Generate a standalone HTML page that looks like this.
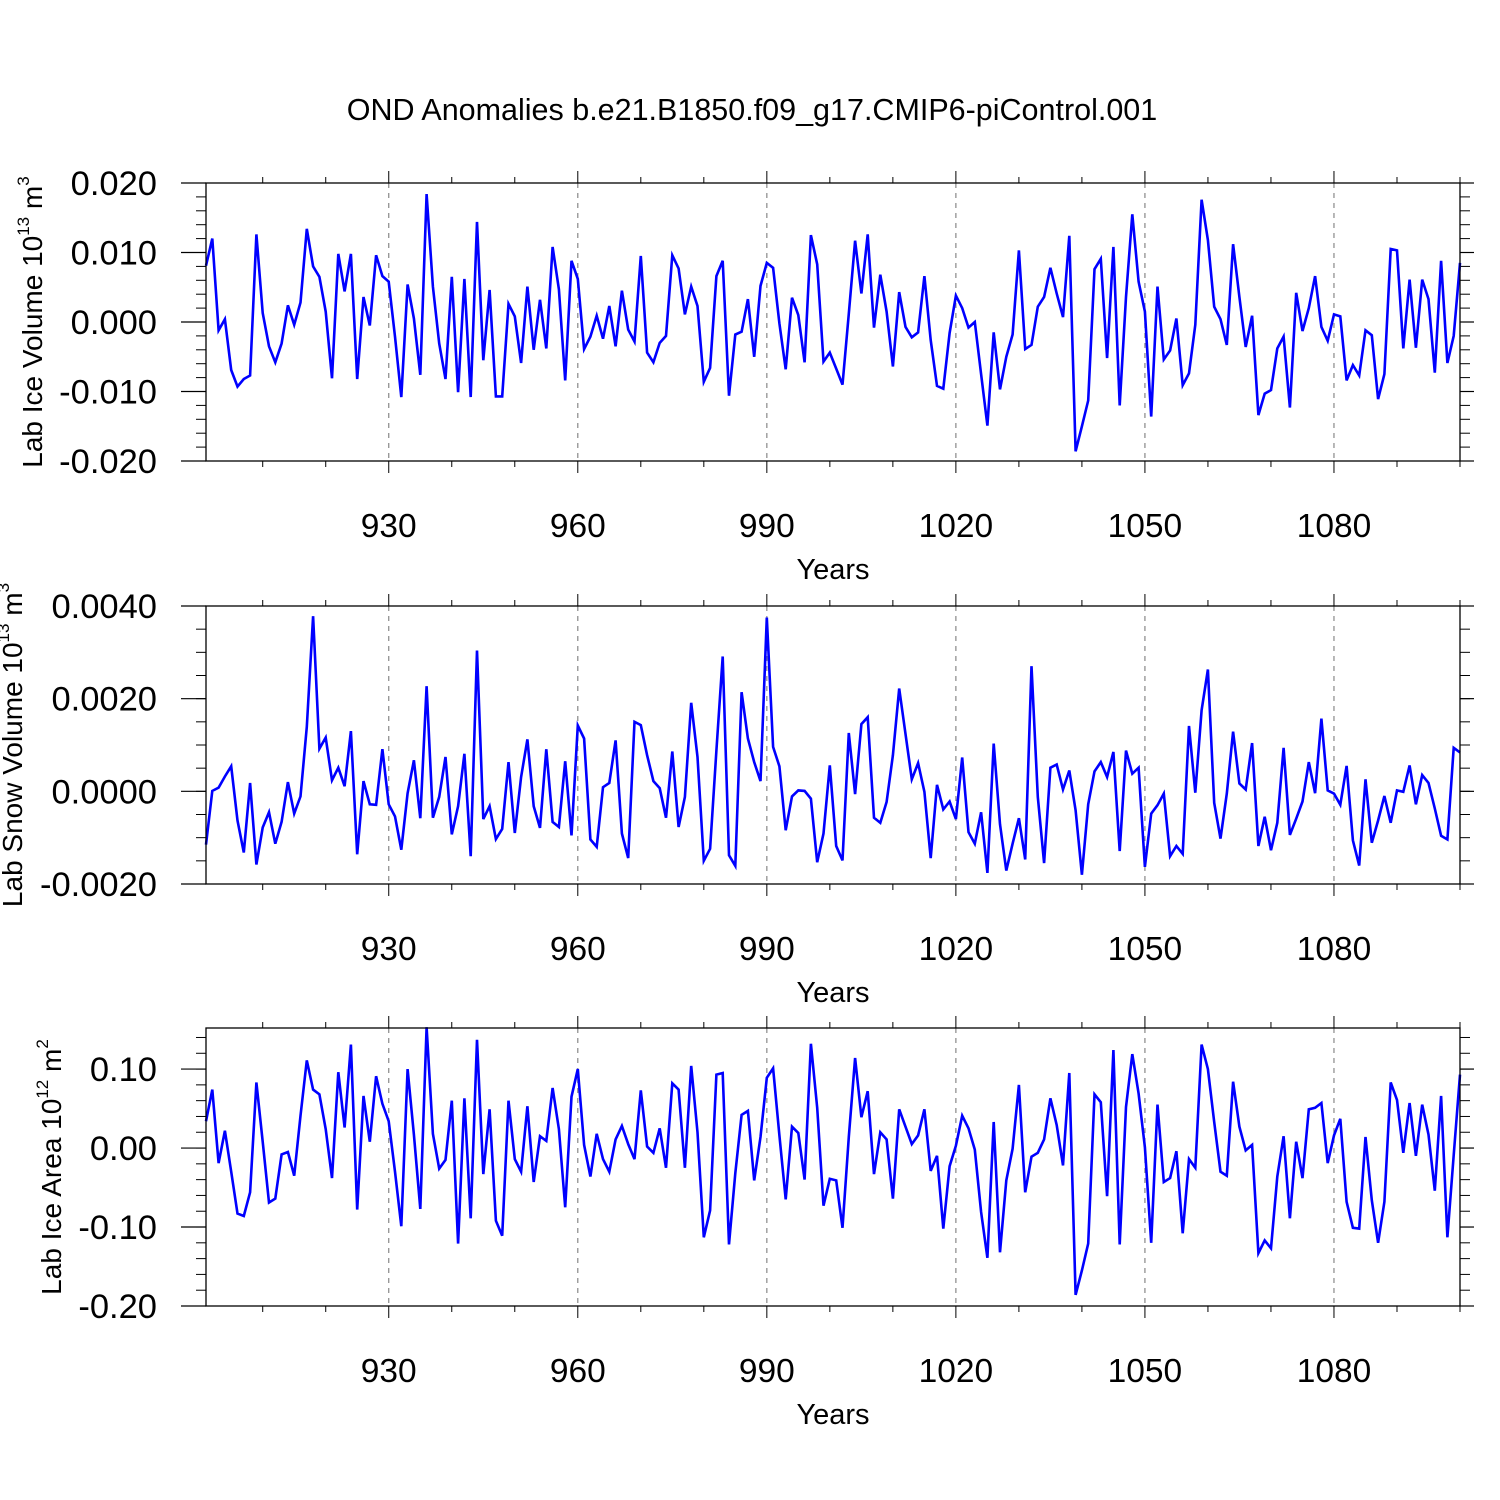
<!DOCTYPE html>
<html><head><meta charset="utf-8"><style>
html,body{margin:0;padding:0;background:#fff;}
svg{display:block;font-family:"Liberation Sans",sans-serif;}
</style></head><body>
<svg id="chart" width="1500" height="1500" viewBox="0 0 1500 1500" xmlns="http://www.w3.org/2000/svg">
<rect width="1500" height="1500" fill="#fff"/>
<text x="752" y="120" font-size="30.5" text-anchor="middle">OND Anomalies b.e21.B1850.f09_g17.CMIP6-piControl.001</text>
</svg>
<script>
const startYear = 901;
const xTickYears = [930, 960, 990, 1020, 1050, 1080];
const iceVolume = [8.1,12.0,-1.2,0.4,-6.9,-9.3,-8.2,-7.7,12.6,1.3,-3.5,-5.8,-3.1,2.4,-0.4,2.8,13.4,8.0,6.5,1.5,-8.1,9.8,4.4,9.8,-8.2,3.6,-0.5,9.6,6.6,5.8,-2.1,-10.8,5.4,0.5,-7.6,18.4,5.1,-3.1,-8.2,6.5,-10.1,6.2,-10.8,14.4,-5.5,4.6,-10.7,-10.7,2.6,
0.8,-5.9,5.1,-4.0,3.2,-3.8,10.8,4.7,-8.4,8.8,6.2,-3.9,-2.1,0.9,-2.4,2.3,-3.5,4.5,-1.1,-2.8,9.5,-4.4,-5.8,-3.0,-2.0,9.6,7.7,1.1,5.1,2.3,-8.6,-6.6,6.6,8.8,-10.6,-1.8,-1.4,3.3,-5.0,5.2,8.5,7.8,-0.2,-6.8,3.5,1.0,-5.8,12.5,8.3,-5.7,-4.4,
-6.7,-9.0,1.2,11.7,4.1,12.6,-0.8,6.8,1.5,-6.4,4.3,-0.7,-2.2,-1.5,6.6,-2.6,-9.2,-9.6,-1.6,3.8,2.0,-0.8,0,-7.5,-14.9,-1.5,-9.7,-5.0,-1.8,10.3,-3.9,-3.3,2.2,3.6,7.8,4.1,0.7,12.4,-18.6,-15.0,-11.3,7.6,9.1,-5.2,10.8,-12.0,3.6,15.5,5.8,
1.5,-13.6,5.1,-5.4,-4.1,0.5,-9.1,-7.4,-0.4,17.6,11.8,2.2,0.4,-3.3,11.2,3.6,-3.6,0.9,-13.4,-10.3,-9.8,-3.8,-2.1,-12.3,4.2,-1.3,2.0,6.6,-0.7,-2.7,1.1,0.8,-8.4,-6.2,-7.7,-1.2,-1.9,-11.1,-7.5,10.5,10.3,-3.8,6.1,-3.7,6.1,3.3,-7.3,8.8,-5.9,-2.0,8.5];
const snowVolume = [-11.5,0.1,0.8,3.2,5.4,-6.3,-13.2,1.8,-15.8,-7.8,-4.5,-11.3,-6.6,2.0,-4.8,-1.1,13.9,37.8,9.2,11.6,2.4,5.1,1.1,13.0,-13.6,2.2,-2.8,-2.9,9.1,-2.8,-5.4,-12.6,-0.4,6.7,-5.8,22.7,-5.7,-1.2,7.4,-9.3,-3.2,8.1,-14.0,30.4,-6.0,-3.2,-10.3,-8.1,6.3,
-9.0,3.1,11.2,-3.2,-7.9,9.1,-6.6,-7.7,6.5,-9.5,14.2,11.4,-10.4,-12.0,0.9,1.8,11.0,-9.1,-14.4,15.0,14.3,7.8,2.2,0.7,-5.7,8.6,-7.7,-1.2,19.1,7.4,-15.0,-12.4,8.8,29.1,-13.8,-16.1,21.4,11.4,6.3,2.2,37.5,9.6,5.4,-8.4,-1.1,0.2,0.1,-1.6,-15.3,-9.1,5.6,
-11.8,-14.9,12.6,-0.6,14.5,16.0,-5.7,-6.8,-2.3,7.8,22.2,12.4,2.6,6.1,-0.1,-14.4,1.4,-3.9,-2.2,-6.0,7.3,-8.8,-11.3,-4.5,-17.6,10.3,-7.1,-17.1,-11.3,-5.8,-14.7,27.0,-1.2,-15.5,5.1,5.8,0.4,4.5,-4.1,-18.0,-2.8,4.3,6.3,3.1,8.5,-12.9,8.8,3.8,5.1,
-16.3,-4.8,-3.0,-0.5,-14.0,-11.8,-13.5,14.1,-0.3,17.5,26.3,-2.5,-10.2,-0.5,12.9,1.7,0.4,10.4,-11.8,-5.5,-12.7,-6.8,9.4,-9.4,-5.9,-2.2,6.3,-0.4,15.7,0.2,-0.5,-2.9,5.5,-10.6,-16.0,2.6,-11.1,-6.3,-1.0,-6.8,0.2,-0.1,5.6,-2.8,3.5,1.8,-3.7,-9.6,-10.4,9.4,8.4];
const iceArea = [3.4,7.4,-1.9,2.2,-3.0,-8.3,-8.6,-5.6,8.3,0.8,-6.9,-6.4,-0.8,-0.5,-3.5,4.1,11.1,7.4,6.8,2.4,-3.8,9.6,2.6,13.1,-7.8,6.6,0.8,9.1,5.6,3.4,-3.0,-9.9,10.0,1.7,-7.7,15.3,1.8,-2.6,-1.5,6.0,-12.1,6.3,-8.9,13.7,-3.3,4.9,-9.2,-11.1,6.0,
-1.4,-3.0,5.3,-4.3,1.5,0.9,7.6,2.4,-7.5,6.5,10.0,0.4,-3.6,1.8,-1.4,-3.0,1.1,2.8,0.5,-1.4,7.3,0.2,-0.6,2.5,-2.5,8.2,7.4,-2.5,10.4,2.0,-11.3,-7.9,9.3,9.5,-12.2,-3.2,4.2,4.7,-4.1,1.4,8.9,10.1,1.6,-6.5,2.7,1.9,-4.0,13.2,5.1,-7.3,-3.9,
-4.1,-10.1,1.4,11.4,3.9,7.2,-3.3,2.0,1.1,-6.4,4.9,2.7,0.5,1.6,4.9,-2.9,-1.0,-10.2,-2.3,0.3,4.1,2.5,-0.2,-8.1,-13.9,3.3,-13.2,-4.1,-0.1,8.0,-5.6,-1.1,-0.6,1.1,6.3,2.9,-2.2,9.5,-18.6,-15.5,-12.1,6.8,5.8,-6.1,12.4,-12.2,5.2,11.9,6.9,
0.1,-12.0,5.5,-4.3,-3.8,-0.4,-10.8,-1.4,-2.5,13.1,10.0,3.3,-3.0,-3.5,8.4,2.7,-0.3,0.4,-13.3,-11.7,-12.7,-3.6,1.5,-8.9,0.8,-3.8,4.9,5.1,5.7,-1.9,1.6,3.7,-6.8,-10.1,-10.2,1.4,-6.6,-12.0,-6.8,8.3,6.1,-0.6,5.7,-1.0,5.5,1.7,-5.4,6.6,-11.3,-0.9,9.3];
const iceVolTicks = ["0.020","0.010","0.000","-0.010","-0.020"];
const snowTicks = ["0.0040","0.0020","0.0000","-0.0020"];
const areaTicks = ["0.10","0.00","-0.10","-0.20"];

const NS="http://www.w3.org/2000/svg";
const svg=document.getElementById('chart');
function mk(tag,attrs,parent){const e=document.createElementNS(NS,tag);for(const k in attrs)e.setAttribute(k,attrs[k]);(parent||svg).appendChild(e);return e;}
const X0=206,X1=1460,yearMin=901,yearMax=1100;
function xs(yr){return X0+(yr-yearMin)*(X1-X0)/(yearMax-yearMin);}

const panels=[
 {key:'ice-volume',data:iceVolume,scale:0.001,top:183,bot:461,vmax:0.020,vmin:-0.020,ticks:iceVolTicks,tickVals:[0.02,0.01,0,-0.01,-0.02],minor:0.002,title:'Lab Ice Volume 10',sup:'13',unit:' m',usup:'3',ty:322,tx:42},
 {key:'snow-volume',data:snowVolume,scale:0.0001,top:606,bot:884,vmax:0.0040,vmin:-0.0020,ticks:snowTicks,tickVals:[0.004,0.002,0,-0.002],minor:0.0005,title:'Lab Snow Volume 10',sup:'13',unit:' m',usup:'3',ty:745,tx:22},
 {key:'ice-area',data:iceArea,scale:0.01,top:1028,bot:1306,vmax:0.152,vmin:-0.20,ticks:areaTicks,tickVals:[0.1,0,-0.1,-0.2],minor:0.02,title:'Lab Ice Area 10',sup:'12',unit:' m',usup:'2',ty:1167,tx:61}
];
panels.forEach(p=>{
 const g=mk('g',{});
 
 
 const ys=v=>p.bot-(v-p.vmin)*(p.bot-p.top)/(p.vmax-p.vmin);
 xTickYears.forEach(yr=>{
  const l=mk('line',{x1:xs(yr),x2:xs(yr),y1:p.top,y2:p.bot,stroke:'#888','stroke-width':1.2,'stroke-dasharray':'5,5'},g);
  
  
 });
 for(let v=p.vmin;v<=p.vmax+1e-9;v+=p.minor){
  const y=ys(v);
  mk('line',{x1:X0-10,x2:X0,y1:y,y2:y,stroke:'#000','stroke-width':1},g);
  mk('line',{x1:X1,x2:X1+10,y1:y,y2:y,stroke:'#000','stroke-width':1},g);
 }
 p.tickVals.forEach((v,i)=>{
  const y=ys(v);
  mk('line',{x1:X0-25,x2:X0,y1:y,y2:y,stroke:'#000','stroke-width':1.2},g);
  mk('line',{x1:X1,x2:X1+14,y1:y,y2:y,stroke:'#000','stroke-width':1.2},g);
  const t=mk('text',{x:157,y:y+12,'font-size':34.5,'text-anchor':'end'},g);
  
  
  t.textContent=p.ticks[i];
 });
 for(let yr=910;yr<=1100;yr+=10){
  const x=xs(yr),maj=xTickYears.includes(yr);
  mk('line',{x1:x,x2:x,y1:p.bot,y2:p.bot+(maj?12:6),stroke:'#000','stroke-width':1},g);
  mk('line',{x1:x,x2:x,y1:p.top,y2:p.top-(maj?12:6),stroke:'#000','stroke-width':1},g);
 }
 xTickYears.forEach(yr=>{
  const t=mk('text',{x:xs(yr),y:p.bot+76,'font-size':33.5,'text-anchor':'middle'},g);
  
  
  t.textContent=yr;
 });
 const xt=mk('text',{x:833,y:p.bot+118,'font-size':29,'text-anchor':'middle'},g);
 
 
 xt.textContent='Years';
 const yt=mk('text',{x:0,y:0,'font-size':28,'text-anchor':'middle',transform:`translate(${p.tx},${p.ty}) rotate(-90)`},g);
 
 
 const s1=document.createElementNS(NS,'tspan');s1.textContent=p.title;yt.appendChild(s1);
 const s2=document.createElementNS(NS,'tspan');s2.setAttribute('dy','-13');s2.setAttribute('font-size','17');s2.textContent=p.sup;yt.appendChild(s2);
 const s3=document.createElementNS(NS,'tspan');s3.setAttribute('dy','13');s3.textContent=p.unit;yt.appendChild(s3);
 const s4=document.createElementNS(NS,'tspan');s4.setAttribute('dy','-13');s4.setAttribute('font-size','17');s4.textContent=p.usup;yt.appendChild(s4);
 const pts=p.data.map((v,i)=>xs(startYear+i).toFixed(1)+','+ys(v*p.scale).toFixed(1)).join(' ');
 const pl=mk('polyline',{points:pts,fill:'none',stroke:'#0000ff','stroke-width':2.6,'stroke-linejoin':'miter'},g);
 
 
 const fr=mk('rect',{x:X0,y:p.top,width:X1-X0,height:p.bot-p.top,fill:'none',stroke:'#000','stroke-width':1.3},g);
 
 
});
</script>
</body></html>
